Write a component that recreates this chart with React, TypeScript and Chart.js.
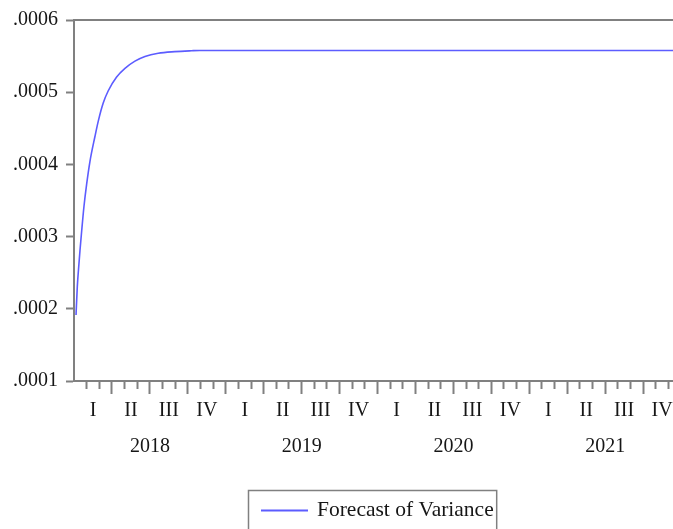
import React, { useEffect, useRef } from 'react';
import { Chart, registerables } from 'chart.js';

Chart.register(...registerables);

// Months elapsed since 1 Jan 2018 (linear time axis, 0..48)
const MONTHS = [0.16, 0.26, 0.39, 0.47, 0.61, 0.79, 1.0, 1.26, 1.66, 1.92, 2.31, 2.71, 3.37, 4.03, 4.82, 5.61, 6.66, 7.97, 9.29, 9.95, 48];
const VARIANCE = [
  0.0001915, 0.0002304, 0.000262, 0.00028, 0.0003084, 0.000342, 0.0003726, 0.000404,
  0.000439, 0.00046, 0.000485, 0.000502, 0.000521, 0.000533, 0.000543, 0.0005495,
  0.000554, 0.0005562, 0.0005574, 0.0005578, 0.0005578,
];
const Y_MIN = 0.0001;
const Y_MAX = 0.0006;
const Y_STEP = 0.0001;
const X_MIN = 0;
const X_MAX = 48;
const QUARTER_LABELS = ['I', 'II', 'III', 'IV'];
const YEARS = ['2018', '2019', '2020', '2021'];
const SERIES_LABEL = 'Forecast of Variance';

const AXIS = '#808080';
const TEXT = '#161616';
const LINE = '#5c5cff';
const FONT = 'Liberation Serif';

const X_TICKS: number[] = [];
for (let i = X_MIN * 2; i <= X_MAX * 2; i++) X_TICKS.push(i / 2);

const frameAndLegend = {
  id: 'frameAndLegend',
  afterDraw(chart: any) {
    const { ctx, chartArea } = chart;
    ctx.save();
    // top frame line
    ctx.strokeStyle = AXIS;
    ctx.lineWidth = 2;
    ctx.beginPath();
    ctx.moveTo(chartArea.left - 1, chartArea.top);
    ctx.lineTo(chartArea.right, chartArea.top);
    ctx.stroke();

    // legend
    const ds = chart.data.datasets[0];
    ctx.font = `21.5px "${FONT}"`;
    const tw = ctx.measureText(ds.label).width;
    const padL = 12.5, lineLen = 47, gap = 9, padR = 3;
    const boxW = padL + lineLen + gap + tw + padR;
    const cx = (chartArea.left + chartArea.right) / 2 - 5;
    const bx = Math.round(cx - boxW / 2) + 0.5;
    const by = 490.5;
    ctx.lineWidth = 1.5;
    ctx.strokeStyle = AXIS;
    ctx.strokeRect(bx, by, boxW, 60);
    const my = 510.5;
    ctx.strokeStyle = ds.borderColor;
    ctx.lineWidth = 2;
    ctx.beginPath();
    ctx.moveTo(bx + padL, my);
    ctx.lineTo(bx + padL + lineLen, my);
    ctx.stroke();
    ctx.fillStyle = TEXT;
    ctx.textBaseline = 'middle';
    ctx.textAlign = 'left';
    ctx.fillText(ds.label, bx + padL + lineLen + gap, my);
    ctx.restore();
  },
};

export default function App() {
  const ref = useRef<HTMLCanvasElement | null>(null);

  useEffect(() => {
    if (!ref.current) return;
    const chart = new Chart(ref.current, {
      type: 'line',
      data: {
        datasets: [
          {
            label: SERIES_LABEL,
            data: MONTHS.map((m, i) => ({ x: m, y: VARIANCE[i] })),
            borderColor: LINE,
            borderWidth: 1.6,
            pointRadius: 0,
            fill: false,
            cubicInterpolationMode: 'monotone',
          },
        ],
      },
      options: {
        animation: false,
        responsive: false,
        devicePixelRatio: 1,
        layout: { padding: { left: 5, top: 17, right: 19, bottom: 65 } },
        plugins: { legend: { display: false }, tooltip: { enabled: false } },
        scales: {
          x: {
            type: 'linear',
            min: X_MIN,
            max: X_MAX,
            afterBuildTicks: (scale: any) => {
              scale.ticks = X_TICKS.map((v) => ({ value: v }));
            },
            border: { display: true, color: AXIS, width: 2 },
            grid: {
              display: true,
              drawOnChartArea: false,
              drawTicks: true,
              tickLength: 13,
              tickWidth: 2,
              tickColor: (c: any) => {
                const v = c.tick ? c.tick.value : -1;
                return v > 0 && Number.isInteger(v) ? AXIS : 'rgba(0,0,0,0)';
              },
              tickBorderDash: (c: any) => {
                const v = c.tick ? c.tick.value : 0;
                return Number.isInteger(v) && v % 3 !== 0 ? [7, 40] : [];
              },
            },
            ticks: {
              autoSkip: false,
              maxRotation: 0,
              minRotation: 0,
              padding: -1,
              color: TEXT,
              font: { family: FONT, size: 20, lineHeight: 1.8 },
              callback: (value: any) => {
                const v = Number(value);
                if (v % 3 === 1.5) return QUARTER_LABELS[((v - 1.5) / 3) % 4];
                if (v % 12 === 6) return ['', YEARS[(v - 6) / 12]];
                return '';
              },
            },
          },
          y: {
            type: 'linear',
            min: Y_MIN,
            max: Y_MAX,
            border: { display: true, color: AXIS, width: 2 },
            grid: {
              display: true,
              drawOnChartArea: false,
              drawTicks: true,
              tickLength: 8,
              tickWidth: 2,
              tickColor: AXIS,
            },
            ticks: {
              stepSize: Y_STEP,
              padding: 8,
              color: TEXT,
              font: { family: FONT, size: 20 },
              callback: (value: any) => '.' + Number(value).toFixed(4).split('.')[1],
            },
          },
        },
      },
      plugins: [frameAndLegend],
    } as any);
    return () => chart.destroy();
  }, []);

  return (
    <div
      style={{
        position: 'fixed',
        left: 0,
        top: 0,
        width: 673,
        height: 529,
        overflow: 'hidden',
        background: '#fff',
      }}
    >
      <canvas ref={ref} width={700} height={529} style={{ display: 'block', width: 700, height: 529 }} />
    </div>
  );
}
